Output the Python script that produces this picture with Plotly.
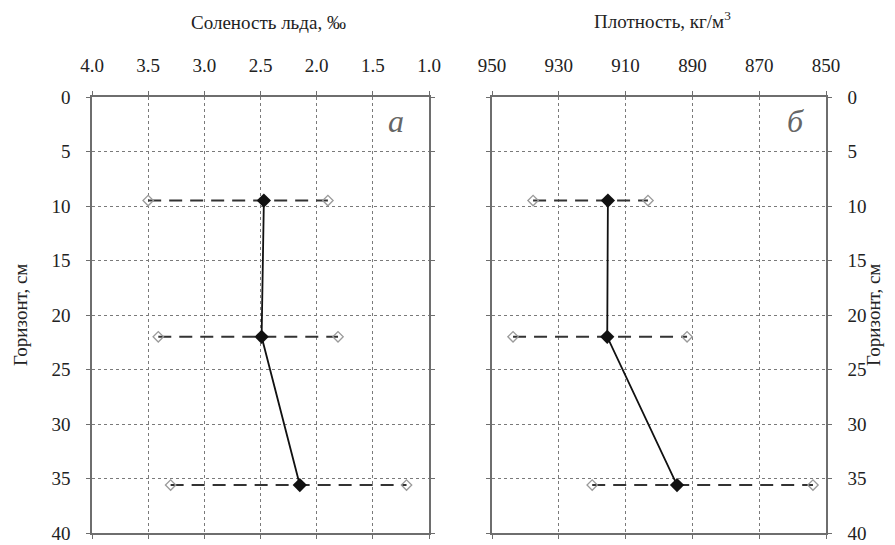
import plotly.graph_objects as go

# Depth horizons (cm)
depth = [9.5, 22.0, 35.6]

# Ice salinity, per mille: mean, min, max per horizon
sal_mean = [2.47, 2.49, 2.15]
sal_left = [3.50, 3.41, 3.30]
sal_right = [1.90, 1.81, 1.20]

# Ice density, kg/m3: mean, upper-bound, lower-bound per horizon
den_mean = [915.3, 915.5, 894.6]
den_left = [937.7, 943.7, 920.0]
den_right = [903.3, 891.6, 853.9]

sal_ticks = [4.0, 3.5, 3.0, 2.5, 2.0, 1.5, 1.0]
den_ticks = [950, 930, 910, 890, 870, 850]
depth_ticks = [0, 5, 10, 15, 20, 25, 30, 35, 40]

FONT = "Liberation Serif, DejaVu Serif, serif"
AXIS_COL = "#6e6e6e"
GRID_COL = "#7a7a7a"
TXT_COL = "#222222"
FS = 19

fig = go.Figure()


def add_panel(xa, ya, means, lows, highs):
    for d, lo, hi in zip(depth, lows, highs):
        fig.add_trace(go.Scatter(
            x=[lo, hi], y=[d, d], xaxis=xa, yaxis=ya,
            mode="lines+markers",
            line=dict(color="#333333", width=2, dash="13px,8px"),
            marker=dict(symbol="diamond-open", size=8, color="#9a9a9a",
                        line=dict(width=1.3, color="#9a9a9a")),
            showlegend=False, hoverinfo="skip"))
    fig.add_trace(go.Scatter(
        x=means, y=depth, xaxis=xa, yaxis=ya,
        mode="lines+markers",
        line=dict(color="#111111", width=1.8),
        marker=dict(symbol="diamond", size=11, color="#111111"),
        showlegend=False))


add_panel("x", "y", sal_mean, sal_left, sal_right)
add_panel("x2", "y2", den_mean, den_left, den_right)

W, H = 895, 545
xd1 = [92 / W, 429 / W]
xd2 = [492 / W, 826 / W]
yd = [(H - 533) / H, (H - 97) / H]

common_x = dict(
    side="top", showline=True, linecolor=AXIS_COL, linewidth=1.5,
    mirror="ticks", ticks="outside", ticklen=4, tickcolor=AXIS_COL,
    showgrid=True, gridcolor=GRID_COL, griddash="dot", gridwidth=1,
    zeroline=False, tickfont=dict(family=FONT, size=FS, color=TXT_COL),
    ticklabelstandoff=12, automargin=False,
)
common_y = dict(
    range=[40, 0], tickvals=depth_ticks, showline=True, linecolor=AXIS_COL,
    linewidth=1.5, mirror="ticks", ticks="outside", ticklen=4,
    tickcolor=AXIS_COL, showgrid=True, gridcolor=GRID_COL, griddash="dot",
    gridwidth=1, zeroline=False,
    tickfont=dict(family=FONT, size=FS, color=TXT_COL), ticklabelstandoff=12,
    automargin=False,
)

fig.update_layout(
    width=W, height=H, margin=dict(l=0, r=0, t=0, b=0, autoexpand=False),
    paper_bgcolor="white", plot_bgcolor="white",
    font=dict(family=FONT, size=FS, color=TXT_COL),
    xaxis=dict(common_x, domain=xd1, range=[4.0, 1.0], tickvals=sal_ticks,
               ticktext=[f"{v:.1f}" for v in sal_ticks], anchor="y"),
    yaxis=dict(common_y, domain=yd, anchor="x", side="left"),
    xaxis2=dict(common_x, domain=xd2, range=[950, 850], tickvals=den_ticks,
                anchor="y2"),
    yaxis2=dict(common_y, domain=yd, anchor="x2", side="right"),
)

ann_font = dict(family=FONT, size=FS, color=TXT_COL)
centered = dict(xref="paper", yref="paper", showarrow=False,
                xanchor="center", yanchor="middle", font=ann_font)
fig.add_annotation(text="Соленость льда, ‰", x=268 / W, y=1 - 22 / H,
                   **centered)
fig.add_annotation(text="Плотность, кг/м<sup>3</sup>", x=662 / W,
                   y=1 - 20 / H, **centered)
fig.add_annotation(text="Горизонт, см", x=20 / W, y=1 - 315 / H,
                   textangle=-90, **centered)
fig.add_annotation(text="Горизонт, см", x=873 / W, y=1 - 315 / H,
                   textangle=-90, **centered)

letter_font = dict(family=FONT, size=32, color="#666")
fig.add_annotation(text="<i>а</i>", xref="x", yref="y", x=1.29, y=2.2,
                   showarrow=False, font=letter_font)
fig.add_annotation(text="<i>б</i>", xref="x2", yref="y2", x=859, y=2.2,
                   showarrow=False, font=letter_font)

fig.write_html("out.html")
